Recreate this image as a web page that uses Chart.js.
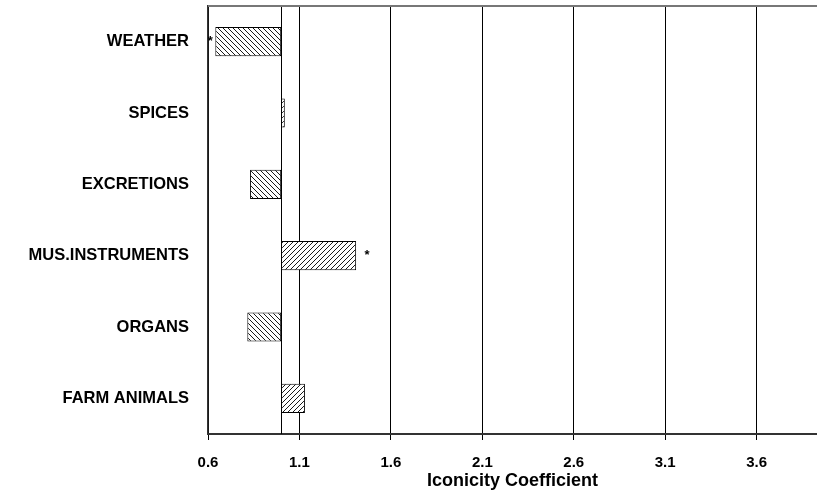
<!DOCTYPE html>
<html>
<head>
<meta charset="utf-8">
<script src="https://cdn.jsdelivr.net/npm/chart.js@4"></script>
<style>
  html, body { margin: 0; padding: 0; background: #fff; }
  #wrap { width: 817px; height: 495px; }
</style>
</head>
<body>
<div id="wrap"><canvas id="myChart"></canvas></div>
<script>
const categories = ['WEATHER', 'SPICES', 'EXCRETIONS', 'MUS.INSTRUMENTS', 'ORGANS', 'FARM ANIMALS']
const coefficients = [0.64, 1.02, 0.83, 1.41, 0.815, 1.13]
const significant = ['left', '', '', 'right', '', '']
const baseline = 1.0
const tickValues = [0.6, 1.1, 1.6, 2.1, 2.6, 3.1, 3.6]

const font = "'Liberation Sans', Arial, sans-serif"

function hatch(forward){
  const c = document.createElement('canvas')
  c.width = 5; c.height = 5
  const g = c.getContext('2d')
  g.fillStyle = '#fff'
  g.fillRect(0, 0, 5, 5)
  g.strokeStyle = '#000'
  g.lineWidth = 0.9
  g.beginPath()
  if (forward) {
    g.moveTo(-1, 6); g.lineTo(6, -1)
    g.moveTo(-1, 1); g.lineTo(1, -1)
    g.moveTo(4, 6); g.lineTo(6, 4)
  } else {
    g.moveTo(-1, -1); g.lineTo(6, 6)
    g.moveTo(4, -1); g.lineTo(6, 1)
    g.moveTo(-1, 4); g.lineTo(1, 6)
  }
  g.stroke()
  return g.createPattern(c, 'repeat')
}

const ctx = document.querySelector('#myChart')
const up = hatch(true), down = hatch(false)

const extras = {
  id: 'extras',
  beforeDatasetsDraw(chart){
    const { ctx, chartArea, scales } = chart
    const x = scales.x.getPixelForValue(baseline)
    ctx.save()
    ctx.strokeStyle = '#000'
    ctx.lineWidth = 1
    ctx.beginPath()
    ctx.moveTo(Math.round(x) + 0.5, chartArea.top)
    ctx.lineTo(Math.round(x) + 0.5, chartArea.bottom)
    ctx.stroke()
    ctx.strokeStyle = '#777'
    ctx.lineWidth = 2
    ctx.beginPath()
    ctx.moveTo(chartArea.left, chartArea.top)
    ctx.lineTo(chartArea.right, chartArea.top)
    ctx.stroke()
    ctx.restore()
  },
  afterDatasetsDraw(chart){
    const { ctx, scales } = chart
    ctx.save()
    ctx.fillStyle = '#000'
    ctx.font = 'bold 13px ' + font
    ctx.textAlign = 'center'
    ctx.textBaseline = 'middle'
    significant.forEach((side, i) => {
      if (!side) return
      const y = scales.y.getPixelForValue(i)
      const x = scales.x.getPixelForValue(coefficients[i])
      ctx.fillText('*', side === 'left' ? x - 5 : x + 11, y)
    })
    ctx.restore()
  }
}

new Chart(ctx, {
  type: 'bar',
  data: {
    labels: categories,
    datasets: [{
      data: coefficients.map(v => [Math.min(v, baseline), Math.max(v, baseline)]),
      backgroundColor: coefficients.map(v => v >= baseline ? up : down),
      borderColor: '#000',
      borderWidth: 1,
      borderSkipped: false,
      categoryPercentage: 1,
      barPercentage: 0.41
    }]
  },
  options: {
    indexAxis: 'y',
    responsive: true,
    maintainAspectRatio: false,
    animation: false,
    layout: { padding: { top: 6, right: 0, left: 0, bottom: 0 } },
    plugins: { legend: { display: false }, tooltip: { enabled: false } },
    scales: {
      x: {
        min: 0.6,
        max: 3.93,
        afterBuildTicks(scale){ scale.ticks = tickValues.map(v => ({ value: v })) },
        afterFit(scale){ scale.height = 61; scale.paddingLeft = 0; scale.paddingRight = 0 },
        grid: { color: '#000', lineWidth: 1, tickLength: 6, drawOnChartArea: true },
        border: { color: '#333', width: 2 },
        ticks: {
          color: '#000',
          font: { family: font, size: 15, weight: 'bold' },
          padding: 14,
          maxRotation: 0,
          callback: v => Number(v).toFixed(1)
        },
        title: {
          display: true,
          text: 'Iconicity Coefficient',
          color: '#000',
          font: { family: font, size: 18, weight: 'bold' },
          padding: { top: 0, bottom: 3 }
        }
      },
      y: {
        afterFit(scale){ scale.width = 208; scale.paddingTop = 0; scale.paddingBottom = 0 },
        grid: { display: false, drawTicks: false },
        border: { color: '#333', width: 1.5 },
        ticks: {
          color: '#000',
          font: { family: font, size: 16.5, weight: 'bold' },
          padding: 19
        }
      }
    }
  },
  plugins: [extras]
})
</script>
</body>
</html>
